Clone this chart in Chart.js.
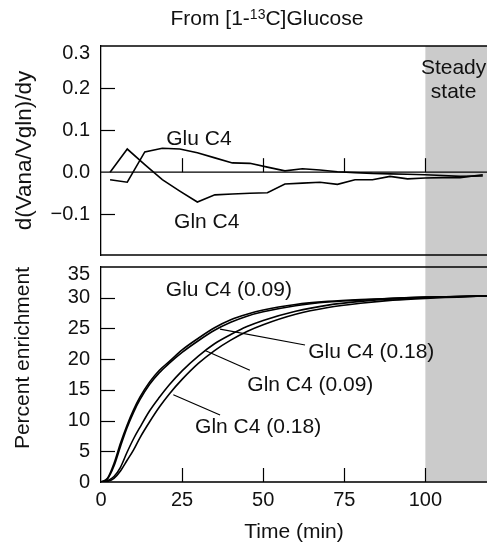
<!DOCTYPE html>
<html><head><meta charset="utf-8">
<script src="https://cdn.jsdelivr.net/npm/chart.js@4/dist/chart.umd.min.js"></script>
<style>
html,body{margin:0;padding:0;background:#fff;}
#wrap{position:relative;width:487px;height:545px;overflow:hidden;background:#fff;}
canvas{position:absolute;left:0;top:0;}
</style></head><body>
<div id="wrap"><canvas id="bot" width="487" height="545"></canvas><canvas id="top" width="487" height="545"></canvas></div>
<script>
// ---------- data ----------
const topTimes = [2.8, 8.1, 13.5, 18.9, 24.3, 29.7, 35.1, 40.5, 45.9, 51.3, 56.7, 62.1, 67.5, 72.9, 78.3, 83.7, 89.1, 94.5, 99.9, 105.3, 110.7, 117.7];
const topGluC4 = [-0.018, -0.024, 0.048, 0.057, 0.055, 0.046, 0.034, 0.022, 0.021, 0.012, 0.003, 0.008, 0.005, 0.001, -0.001, -0.003, -0.004, -0.005, -0.006, -0.008, -0.010, -0.009];
const topGlnC4 = [0.000, 0.055, 0.018, -0.018, -0.045, -0.071, -0.054, -0.052, -0.050, -0.049, -0.028, -0.026, -0.024, -0.029, -0.018, -0.018, -0.010, -0.016, -0.014, -0.013, -0.013, -0.006];

const botTimes  = [0, 2, 4, 6, 8, 10, 12, 15, 18, 21, 25, 30, 35, 40, 45, 50, 60, 70, 80, 90, 100, 110, 119];
const gluC4_009 = [0, 0.6, 3.0, 6.3, 9.2, 11.7, 13.8, 16.3, 18.2, 19.6, 21.5, 23.4, 25.1, 26.4, 27.3, 28.0, 28.9, 29.4, 29.7, 29.9, 30.1, 30.2, 30.3];
const gluC4_018 = [0, 0.5, 2.6, 5.8, 8.8, 11.3, 13.4, 15.9, 17.8, 19.3, 21.1, 23.0, 24.7, 26.0, 27.0, 27.7, 28.7, 29.3, 29.6, 29.9, 30.1, 30.2, 30.3];
const glnC4_009 = [0, 0.2, 0.9, 2.4, 4.8, 7.0, 8.9, 11.6, 13.8, 15.8, 18.1, 20.5, 22.5, 24.0, 25.3, 26.3, 27.8, 28.8, 29.4, 29.8, 30.0, 30.2, 30.3];
const glnC4_018 = [0, 0.1, 0.6, 1.8, 3.5, 5.2, 7.2, 9.8, 12.2, 14.3, 16.7, 19.3, 21.4, 23.1, 24.5, 25.6, 27.3, 28.4, 29.1, 29.6, 29.9, 30.1, 30.3];

const xTickValues = [0, 25, 50, 75, 100];
const topYTickValues = [-0.1, 0, 0.1, 0.2, 0.3];
const botYTickValues = [0, 5, 10, 15, 20, 25, 30, 35];
const steadyStateFrom = 100;

const topNotes = [
  {text: 'Glu C4', t: 30.2, v: 0.079, align: 'center'},
  {text: 'Gln C4', t: 32.6, v: -0.118, align: 'center'},
  {text: 'Steady', t: 108.7, v: 0.247, align: 'center'},
  {text: 'state', t: 108.7, v: 0.191, align: 'center'}
];
const botNotes = [
  {text: 'Glu C4 (0.09)', t: 20.0, v: 31.25, align: 'left'},
  {text: 'Glu C4 (0.18)', t: 63.9, v: 21.2, align: 'left'},
  {text: 'Gln C4 (0.09)', t: 45.1, v: 15.8, align: 'left'},
  {text: 'Gln C4 (0.18)', t: 29.0, v: 8.84, align: 'left'}
];
const botLeaders = [
  [36.7, 24.9, 62.9, 22.3],
  [32.1, 21.4, 45.9, 18.2],
  [22.3, 14.2, 36.7, 10.9]
];

// ---------- layout ----------
const W = 487, H = 545, LEFT = 101;
const TOP_T = 46, TOP_B = 255, BOT_T = 267, BOT_B = 482;
const FONT = "'Liberation Sans', Arial, Helvetica, sans-serif";
const TICK = 14;
const INK = '#111';
const GREY = '#cbcbcb';

function pts(xs, ys) { return xs.map((x, i) => ({x, y: ys[i]})); }
function ds(xs, ys, smooth) {
  return {data: pts(xs, ys), borderColor: '#000', borderWidth: 1.6, pointRadius: 0,
          tension: smooth ? 0.4 : 0, cubicInterpolationMode: smooth ? 'monotone' : 'default', fill: false};
}
function line(ctx, x1, y1, x2, y2, w, c) {
  ctx.save(); ctx.strokeStyle = c || '#000'; ctx.lineWidth = w || 1.3;
  ctx.beginPath(); ctx.moveTo(x1, y1); ctx.lineTo(x2, y2); ctx.stroke(); ctx.restore();
}
function notes(chart, list) {
  const ctx = chart.ctx, xs = chart.scales.x, ys = chart.scales.y;
  ctx.save(); ctx.fillStyle = INK; ctx.font = '21px ' + FONT; ctx.textBaseline = 'middle';
  list.forEach(n => { ctx.textAlign = n.align; ctx.fillText(n.text, xs.getPixelForValue(n.t), ys.getPixelForValue(n.v)); });
  ctx.restore();
}
function fmtTop(v) {
  const s = Math.abs(v).toFixed(1);
  const lab = v < -1e-9 ? '\u2212' + s : s;
  return v > 0.29 ? ['', lab] : lab;
}

Chart.defaults.font.family = FONT;
Chart.defaults.color = INK;

// ---------- top panel ----------
const topDecor = {
  id: 'topDecor',
  beforeDraw(chart) {
    const {ctx, chartArea: a, scales: {x}} = chart;
    ctx.save(); ctx.fillStyle = GREY;
    const gx = x.getPixelForValue(steadyStateFrom);
    ctx.fillRect(gx, a.top, W - gx, a.bottom - a.top);
    ctx.restore();
  },
  afterDraw(chart) {
    const {ctx, chartArea: a, scales: {x, y}} = chart;
    line(ctx, a.left - 0.6, a.top, W, a.top);
    line(ctx, a.left - 0.6, a.bottom, W, a.bottom);
    const y0 = y.getPixelForValue(0);
    line(ctx, a.left, y0, W, y0);
    xTickValues.forEach(v => { if (v > 0) { const px = Math.round(x.getPixelForValue(v)) + 0.5; line(ctx, px, y0, px, y0 - TICK, 1.2); } });
    topYTickValues.forEach(v => { if (v !== 0 && v < 0.29) { const py = Math.round(y.getPixelForValue(v)) + 0.5; line(ctx, a.left, py, a.left + TICK, py, 1.2); } });
    notes(chart, topNotes);
    // title with superscript
    ctx.save(); ctx.fillStyle = INK; ctx.textBaseline = 'alphabetic'; ctx.textAlign = 'left';
    const p1 = 'From [1-', sup = '13', p2 = 'C]Glucose';
    ctx.font = '21px ' + FONT; const w1 = ctx.measureText(p1).width, w3 = ctx.measureText(p2).width;
    ctx.font = '14px ' + FONT; const w2 = ctx.measureText(sup).width;
    let sx = 267 - (w1 + w2 + w3) / 2;
    ctx.font = '21px ' + FONT; ctx.fillText(p1, sx, 25); sx += w1;
    ctx.font = '14px ' + FONT; ctx.fillText(sup, sx, 19); sx += w2;
    ctx.font = '21px ' + FONT; ctx.fillText(p2, sx, 25);
    ctx.restore();
  }
};

new Chart(document.getElementById('top'), {
  type: 'line',
  data: {datasets: [ds(topTimes, topGluC4, false), ds(topTimes, topGlnC4, false)]},
  options: {
    responsive: false, animation: false, devicePixelRatio: 1,
    layout: {padding: {left: 0, right: 0, top: TOP_T, bottom: H - TOP_B}},
    plugins: {legend: {display: false}, tooltip: {enabled: false}},
    scales: {
      x: {type: 'linear', min: 0, max: 119, display: false},
      y: {
        type: 'linear', min: -0.197, max: 0.3,
        afterBuildTicks: s => { s.ticks = topYTickValues.map(v => ({value: v})); },
        afterFit: s => { s.width = LEFT; },
        ticks: {font: {size: 20, lineHeight: '14px'}, color: INK, padding: 11, autoSkip: false, callback: v => fmtTop(v)},
        grid: {drawOnChartArea: false, drawTicks: false},
        border: {display: true, color: '#000', width: 1.3},
        title: {display: true, text: 'd(Vana/Vgln)/dy', font: {size: 22.5}, color: INK, padding: {top: 11, bottom: 0}}
      }
    }
  },
  plugins: [topDecor]
});

// ---------- bottom panel ----------
const botDecor = {
  id: 'botDecor',
  beforeDraw(chart) {
    const {ctx, chartArea: a, scales: {x}} = chart;
    ctx.save(); ctx.fillStyle = GREY;
    const gx = x.getPixelForValue(steadyStateFrom);
    ctx.fillRect(gx, TOP_B, W - gx, a.bottom - TOP_B);
    ctx.restore();
  },
  afterDraw(chart) {
    const {ctx, chartArea: a, scales: {x, y}} = chart;
    line(ctx, a.left - 0.6, a.top, W, a.top);
    xTickValues.forEach(v => { if (v > 0) { const px = Math.round(x.getPixelForValue(v)) + 0.5; line(ctx, px, a.bottom, px, a.bottom - TICK, 1.2); } });
    botYTickValues.forEach(v => { if (v > 0 && v < 35) { const py = Math.round(y.getPixelForValue(v)) + 0.5; line(ctx, a.left, py, a.left + TICK, py, 1.2); } });
    botLeaders.forEach(l => line(ctx, x.getPixelForValue(l[0]), y.getPixelForValue(l[1]), x.getPixelForValue(l[2]), y.getPixelForValue(l[3]), 1.2));
    notes(chart, botNotes);
  }
};

new Chart(document.getElementById('bot'), {
  type: 'line',
  data: {datasets: [ds(botTimes, gluC4_009, true), ds(botTimes, gluC4_018, true), ds(botTimes, glnC4_009, true), ds(botTimes, glnC4_018, true)]},
  options: {
    responsive: false, animation: false, devicePixelRatio: 1,
    layout: {padding: {left: 0, right: 0, top: BOT_T, bottom: 0}},
    plugins: {legend: {display: false}, tooltip: {enabled: false}},
    scales: {
      x: {
        type: 'linear', min: 0, max: 119,
        afterBuildTicks: s => { s.ticks = xTickValues.map(v => ({value: v})); },
        afterFit: s => { s.height = H - BOT_B; },
        ticks: {font: {size: 20}, color: INK, padding: 6.5, maxRotation: 0, autoSkip: false, callback: v => String(v)},
        grid: {drawOnChartArea: false, drawTicks: false},
        border: {display: true, color: '#3a3a3a', width: 2},
        title: {display: true, text: 'Time (min)', font: {size: 21}, color: INK, padding: {top: 0, bottom: 0}}
      },
      y: {
        type: 'linear', min: 0, max: 35,
        afterBuildTicks: s => { s.ticks = botYTickValues.map(v => ({value: v})); },
        afterFit: s => { s.width = LEFT; },
        ticks: {font: {size: 20, lineHeight: '14px'}, color: INK, padding: 11, autoSkip: false, callback: v => v === 35 ? ['', '35'] : String(v)},
        grid: {drawOnChartArea: false, drawTicks: false},
        border: {display: true, color: '#000', width: 1.3},
        title: {display: true, text: 'Percent enrichment', align: 'end', font: {size: 21}, color: INK, padding: {top: 11, bottom: 0}}
      }
    }
  },
  plugins: [botDecor]
});
</script>
</body></html>
